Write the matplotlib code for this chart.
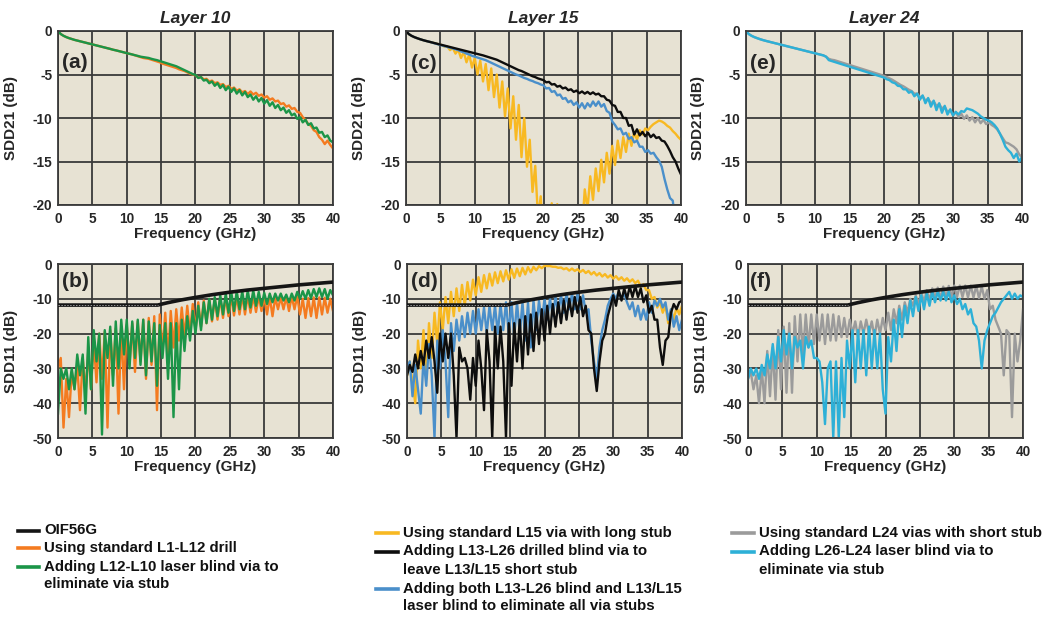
import matplotlib
matplotlib.use('Agg')
import matplotlib.pyplot as plt
from matplotlib.lines import Line2D

plt.rcParams['font.family'] = ['Liberation Sans', 'DejaVu Sans']

# ---------------- data ----------------
FREQ = [0.0, 0.4, 0.8, 1.2, 1.6, 2.0, 2.4, 2.8, 3.2, 3.6,
        4.0, 4.4, 4.8, 5.2, 5.6, 6.0, 6.4, 6.8, 7.2, 7.6,
        8.0, 8.4, 8.8, 9.2, 9.6, 10.0, 10.4, 10.8, 11.2, 11.6,
        12.0, 12.4, 12.8, 13.2, 13.6, 14.0, 14.4, 14.8, 15.2, 15.6,
        16.0, 16.4, 16.8, 17.2, 17.6, 18.0, 18.4, 18.8, 19.2, 19.6,
        20.0, 20.4, 20.8, 21.2, 21.6, 22.0, 22.4, 22.8, 23.2, 23.6,
        24.0, 24.4, 24.8, 25.2, 25.6, 26.0, 26.4, 26.8, 27.2, 27.6,
        28.0, 28.4, 28.8, 29.2, 29.6, 30.0, 30.4, 30.8, 31.2, 31.6,
        32.0, 32.4, 32.8, 33.2, 33.6, 34.0, 34.4, 34.8, 35.2, 35.6,
        36.0, 36.4, 36.8, 37.2, 37.6, 38.0, 38.4, 38.8, 39.2, 39.6,
        40.0]

# (a) Layer 10 SDD21
A_STD = [0, -0.35, -0.55, -0.7, -0.82, -0.92, -1.02, -1.1, -1.18, -1.26,
         -1.34, -1.42, -1.5, -1.58, -1.66, -1.74, -1.82, -1.9, -1.98, -2.06,
         -2.15, -2.22, -2.3, -2.38, -2.46, -2.55, -2.62, -2.7, -2.8, -2.9,
         -3.0, -3.1, -3.15, -3.2, -3.3, -3.4, -3.5, -3.6, -3.75, -3.85,
         -3.95, -4.05, -4.15, -4.25, -4.4, -4.5, -4.6, -4.75, -4.9, -5.0,
         -5.1, -5.35, -5.3, -5.55, -5.5, -5.8, -5.7, -6.0, -5.9, -6.2,
         -6.1, -6.45, -6.3, -6.65, -6.5, -6.85, -6.7, -7.05, -6.9, -7.25,
         -6.95, -7.3, -7.1, -7.45, -7.3, -7.65, -7.5, -7.9, -7.75, -8.1,
         -8.0, -8.4, -8.3, -8.7, -8.55, -8.95, -8.85, -9.3, -9.4, -9.9,
         -10.2, -10.7, -10.9, -11.4, -11.6, -12.2, -12.5, -13.0, -12.6, -13.1,
         -13.5]
A_LASER = [0, -0.35, -0.55, -0.7, -0.82, -0.92, -1.02, -1.1, -1.18, -1.26,
           -1.34, -1.42, -1.5, -1.58, -1.66, -1.74, -1.82, -1.9, -1.98, -2.06,
           -2.15, -2.22, -2.3, -2.38, -2.46, -2.55, -2.62, -2.7, -2.78, -2.86,
           -2.95, -3.0, -3.05, -3.1, -3.2, -3.28, -3.35, -3.45, -3.55, -3.65,
           -3.75, -3.85, -3.95, -4.05, -4.2, -4.35, -4.5, -4.65, -4.8, -4.95,
           -5.05, -5.4, -5.3, -5.7, -5.6, -6.0, -5.8, -6.3, -6.0, -6.55,
           -6.2, -6.8, -6.4, -7.0, -6.6, -7.2, -6.8, -7.4, -7.0, -7.6,
           -7.3, -7.9, -7.5, -8.1, -7.7, -8.35, -7.95, -8.6, -8.2, -8.85,
           -8.5, -9.1, -8.8, -9.4, -9.1, -9.7, -9.5, -10.1, -9.9, -10.5,
           -10.2, -10.8, -10.6, -11.2, -11.1, -11.7, -11.6, -12.2, -12.0, -12.6,
           -12.8]

# (b) Layer 10 SDD11
B_STD = [-30, -27, -47, -33, -44, -31, -36, -29, -42, -27,
         -37, -25, -36, -22, -34, -20, -33, -19.5, -47, -19,
         -32, -18.5, -43, -18, -36, -17.5, -29, -17, -31, -16.5,
         -28, -16, -33, -15.5, -29, -15, -42, -14.5, -25, -14,
         -27, -13.5, -24, -13, -22, -12.5, -21, -12, -20, -11.5,
         -19, -11, -18, -10.5, -17, -10.2, -16.5, -10, -16, -9.7,
         -15.5, -9.5, -15, -9.3, -14.8, -9.2, -14.5, -9.0, -14.5, -9.0,
         -14, -9.2, -13.8, -9.3, -13.5, -9.4, -14.5, -9.5, -15, -9.6,
         -13, -9.6, -13, -9.5, -13.5, -9.3, -13, -9.2, -14.5, -10,
         -15.5, -9.8, -15, -9.6, -15.5, -9.6, -14.5, -9.7, -14, -10,
         -13.5]
B_LASER = [-43, -30, -33, -30, -36, -30, -36, -26, -32, -26,
           -43, -21, -36, -19, -28, -20, -49, -19, -27, -18,
           -35, -16.5, -30, -16, -26, -16, -30, -16.5, -27, -16,
           -29, -16, -32, -16.5, -28, -17, -35, -17.5, -27, -17,
           -33, -17, -44, -17, -36, -16, -25, -15, -22, -13.5,
           -20, -12, -19, -11, -17, -10, -16, -9.5, -15, -9,
           -14.5, -8.5, -14, -8, -13.5, -7.8, -13, -7.8, -13, -7.6,
           -12.5, -7.6, -12, -8, -12, -8.3, -11.5, -8.5, -11, -8.5,
           -10.5, -8.5, -10.5, -8.8, -11, -8.5, -10.5, -8, -10, -7.8,
           -10, -7.5, -9.8, -7.2, -9.5, -7, -9.5, -7.2, -10, -7.5,
           -9]

# (c) Layer 15 SDD21
C_LONG = [0, -0.35, -0.55, -0.7, -0.82, -0.93, -1.03, -1.12, -1.2, -1.28,
          -1.36, -1.44, -1.55, -1.62, -1.8, -1.75, -2.2, -1.95, -2.6, -2.15,
          -3.1, -2.4, -3.6, -2.7, -4.2, -3.1, -5.0, -3.4, -5.8, -3.8,
          -6.8, -4.3, -7.6, -5.0, -8.8, -5.8, -9.8, -6.6, -11.2, -7.5,
          -12.5, -8.5, -14.5, -10.0, -15.6, -12.5, -18.5, -15.5, -21.5, -19.0,
          -25, -21, -24, -19.8, -25, -19.9, -26, -22, -27, -25,
          -27, -25, -27, -22, -23, -18.2, -20.5, -16.7, -19.4, -15.8,
          -18.4, -14.8, -17.4, -14.0, -16.4, -13.2, -15.4, -12.6, -14.6, -12.2,
          -13.9, -11.8, -13.2, -11.6, -12.5, -11.4, -11.9, -11.2, -11.4, -11.0,
          -10.7, -10.5, -10.3, -10.4, -10.6, -10.9, -11.1, -11.5, -11.8, -12.2,
          -12.5]
C_SHORT = [0, -0.35, -0.55, -0.7, -0.82, -0.93, -1.03, -1.12, -1.2, -1.28,
           -1.36, -1.44, -1.52, -1.6, -1.68, -1.76, -1.84, -1.92, -2.0, -2.08,
           -2.16, -2.24, -2.32, -2.4, -2.48, -2.56, -2.64, -2.72, -2.8, -2.9,
           -3.0, -3.1, -3.2, -3.3, -3.45, -3.6, -3.75, -3.9, -4.05, -4.2,
           -4.35, -4.5, -4.6, -4.75, -4.9, -5.05, -5.2, -5.3, -5.45, -5.55,
           -5.65, -5.9, -5.85, -6.15, -6.1, -6.4, -6.3, -6.6, -6.5, -6.8,
           -6.7, -7.0, -6.85, -7.15, -6.95, -7.2, -7.0, -7.25, -7.05, -7.3,
           -7.2, -7.5, -7.5, -7.9, -8.0, -8.5, -8.6, -9.3, -9.3, -10.0,
           -10.0, -10.9, -10.8, -11.9, -11.3, -12.0, -11.6, -12.1, -11.7, -12.2,
           -11.9, -12.3, -12.2, -12.6, -12.7, -13.2, -13.8, -14.5, -15.0, -15.8,
           -16.5]
C_NOSTUB = [0, -0.35, -0.55, -0.7, -0.82, -0.93, -1.03, -1.12, -1.2, -1.28,
            -1.38, -1.47, -1.56, -1.65, -1.74, -1.83, -1.92, -2.01, -2.1, -2.2,
            -2.35, -2.45, -2.6, -2.7, -2.85, -2.95, -3.05, -3.15, -3.25, -3.35,
            -3.5, -3.65, -3.8, -3.95, -4.1, -4.25, -4.4, -4.55, -4.7, -4.85,
            -5.0, -5.1, -5.25, -5.4, -5.5, -5.65, -5.75, -5.9, -6.0, -6.15,
            -6.25, -6.6, -6.55, -7.0, -6.9, -7.4, -7.3, -7.8, -7.7, -8.2,
            -8.0, -8.5, -8.2, -8.8, -8.3, -8.9, -8.3, -8.7, -8.1, -8.6,
            -8.1, -8.7, -8.4, -9.2, -9.4, -10.4, -10.8, -11.3, -11.2, -11.9,
            -11.7, -12.4, -12.2, -12.8, -12.6, -13.3, -13.3, -13.9, -13.7, -14.1,
            -14.0, -14.5, -14.9, -15.6, -17.0, -18.2, -19.2, -19.5, -22, -24,
            -25]

# (d) Layer 15 SDD11
D_LONG = [-32, -28, -34, -40, -22, -30, -19, -33, -17, -27,
          -14, -23, -11, -19, -9.5, -17, -8, -15, -7, -13.5,
          -6, -12, -5.2, -10.5, -4.5, -9, -3.8, -8, -3.2, -7,
          -2.8, -6.2, -2.4, -5.5, -2.1, -5, -1.8, -4.5, -1.5, -4,
          -1.3, -3.5, -1.1, -3, -0.9, -2.4, -0.8, -1.8, -0.6, -1.2,
          -0.5, -0.6, -0.6, -0.8, -0.8, -1.1, -1.0, -1.5, -1.2, -1.9,
          -1.3, -2.0, -1.5, -2.3, -1.7, -2.6, -2.0, -3.0, -2.3, -3.3,
          -2.6, -3.6, -2.9, -3.9, -3.2, -4.2, -3.5, -4.5, -3.8, -4.8,
          -4.1, -5.1, -4.4, -5.5, -4.8, -6.5, -5.8, -7.5, -7.5, -10,
          -9.5, -12.5, -11, -14, -12, -17, -13, -16, -12.5, -14.5,
          -12]
D_SHORT = [-32, -29, -31, -26, -30, -25, -29, -22, -27, -21,
           -28, -37, -20, -28, -20, -27, -20, -32, -50, -24,
           -28, -27, -30, -39, -27, -35, -22, -30, -42, -19,
           -28, -50, -18, -30, -18, -28, -50, -17, -35, -17,
           -28, -16, -30, -15, -26, -14.5, -25, -14, -23, -13,
           -22, -12, -20, -11.5, -18, -11, -17, -10.5, -16, -10,
           -15, -9.5, -14, -9.5, -15, -12, -19, -20, -30, -36.5,
           -28, -22, -20, -15, -12, -9, -12, -7.5, -10.5, -7,
           -10, -6.5, -9.5, -6.3, -9.5, -7, -11, -9, -14, -12,
           -16, -16, -24, -29, -22, -21, -14, -11.5, -13, -11,
           -10.5]
D_NOSTUB = [-30, -28, -38, -29, -36, -43, -27, -35, -23, -32,
            -50, -22, -30, -19, -28, -44, -17, -25, -16, -22,
            -15, -21, -14, -20, -13.5, -20, -13, -19, -12.5, -20,
            -12, -19, -12, -20, -11.5, -19, -11, -20, -11, -21,
            -11, -20, -11, -22, -11, -24, -10.5, -19, -10.5, -17,
            -10, -16, -10, -15, -9.5, -14, -9, -14, -8.5, -13,
            -8.5, -13, -8.5, -13, -9, -14, -13, -22, -28, -33,
            -24, -19, -16, -12, -10, -8.5, -10, -8, -10, -8.5,
            -11, -13, -11, -15, -12, -16, -13, -16, -11, -14,
            -10.5, -12, -10, -12.5, -11, -16, -13, -18, -15, -19,
            -16]

# (e) Layer 24 SDD21
E_STD = [0, -0.35, -0.55, -0.7, -0.82, -0.93, -1.03, -1.12, -1.2, -1.28,
         -1.36, -1.44, -1.52, -1.6, -1.68, -1.76, -1.84, -1.92, -2.0, -2.08,
         -2.16, -2.24, -2.32, -2.4, -2.48, -2.56, -2.64, -2.72, -2.8, -2.95,
         -3.2, -3.3, -3.35, -3.45, -3.55, -3.65, -3.75, -3.85, -3.95, -4.05,
         -4.15, -4.25, -4.35, -4.45, -4.55, -4.65, -4.75, -4.85, -4.95, -5.05,
         -5.15, -5.3, -5.45, -5.6, -5.8, -6.0, -6.2, -6.35, -6.55, -6.75,
         -6.9, -7.2, -7.2, -7.6, -7.5, -8.0, -7.8, -8.3, -8.1, -8.6,
         -8.4, -8.9, -8.7, -9.3, -9.1, -9.7, -9.3, -9.9, -9.5, -10.1,
         -9.7, -10.3, -9.9, -10.5, -10.0, -10.6, -10.2, -10.7, -10.5, -10.8,
         -11.0, -11.3, -11.8, -12.3, -12.8, -12.9, -13.1, -13.3, -13.6, -14.2,
         -14.5]
E_LASER = [0, -0.35, -0.55, -0.7, -0.82, -0.93, -1.03, -1.12, -1.2, -1.28,
           -1.36, -1.44, -1.52, -1.6, -1.68, -1.76, -1.84, -1.92, -2.0, -2.08,
           -2.16, -2.24, -2.32, -2.4, -2.48, -2.56, -2.64, -2.72, -2.8, -2.95,
           -3.35, -3.45, -3.55, -3.65, -3.75, -3.85, -3.95, -4.05, -4.15, -4.25,
           -4.35, -4.45, -4.55, -4.65, -4.75, -4.85, -4.95, -5.05, -5.15, -5.25,
           -5.35, -5.55, -5.65, -5.9, -6.0, -6.3, -6.35, -6.7, -6.7, -7.1,
           -6.95, -7.5, -7.2, -7.9, -7.4, -8.3, -7.7, -8.7, -8.0, -9.1,
           -8.3, -9.4, -8.6, -9.6, -9.0, -9.7, -9.3, -9.6, -9.2, -9.3,
           -8.9, -9.0, -9.1, -9.3, -9.5, -9.8, -10.0, -10.2, -10.3, -10.5,
           -10.8, -11.2, -11.8, -12.5, -13.3, -13.7, -14.0, -14.6, -14.1, -15.0,
           -14.5]

# (f) Layer 24 SDD11
F_STD = [-33, -31, -36, -32, -40, -30, -40, -25, -38, -24,
         -39, -19, -36, -18, -37, -17, -37, -15, -28, -14.5,
         -26, -14.5, -24, -14.5, -23, -14.5, -22, -14.5, -23, -14.5,
         -22, -14.5, -22, -15, -21, -15.5, -21, -16, -20, -16.5,
         -21, -16.5, -20, -16, -20, -16.5, -21, -16, -20, -15.5,
         -19, -14, -19, -13, -17, -12, -16, -11, -14, -10,
         -12, -9, -11.5, -8, -11, -7.5, -10.5, -7, -10, -6.8,
         -10, -6.5, -9.8, -6.3, -9.5, -6.2, -9.5, -6.2, -9.5, -6.2,
         -9.6, -6.2, -9.6, -6.3, -9.8, -6.5, -10, -7.5, -13, -12,
         -16, -18, -20, -32, -19, -20, -44, -20, -28, -22,
         -13]
F_LASER = [-33, -30, -32, -30, -33, -29, -32, -26, -30, -23,
           -30, -21, -28, -19, -26, -20, -30, -21, -24, -22,
           -30, -21, -24, -22, -27, -27, -28, -34, -46, -30,
           -28, -50, -28, -50, -27, -44, -22, -30, -19, -34,
           -19, -30, -19, -32, -18, -30, -19, -30, -20, -36,
           -43, -21, -28, -16, -25, -13, -21, -12, -17, -10.5,
           -15, -9.5, -13.5, -9, -13, -8.5, -12, -8, -11, -8,
           -10.5, -8, -10.5, -8, -11, -9, -11.5, -10, -13, -11.5,
           -14.5, -13, -17, -18, -22, -30, -22, -19, -17, -15,
           -14, -12.5, -11, -10, -9, -8, -10, -8.5, -10, -9,
           -9.5]

# OIF56G return-loss mask
OIF_FREQ = [0, 14.5, 16, 18, 20, 22.5, 25, 27.5, 30, 32.5, 35, 37.5, 40]
OIF_DB = [-11.8, -11.8, -11.1, -10.3, -9.6, -8.8, -8.1, -7.5, -7.0, -6.5, -6.0, -5.6, -5.2]

TITLES = ['Layer 10', 'Layer 15', 'Layer 24']
PANEL_LABELS = ['(a)', '(b)', '(c)', '(d)', '(e)', '(f)']
XTICKS = [0, 5, 10, 15, 20, 25, 30, 35, 40]
YTICKS_21 = [0, -5, -10, -15, -20]
YTICKS_11 = [0, -10, -20, -30, -40, -50]

LEGEND_COL1 = [('OIF56G', 'oif'), ('Using standard L1-L12 drill', 'orange'),
               ('Adding L12-L10 laser blind via to', 'green'), ('eliminate via stub', None)]
LEGEND_COL2 = [('Using standard L15 via with long stub', 'gold'),
               ('Adding L13-L26 drilled blind via to', 'black'), ('leave L13/L15 short stub', None),
               ('Adding both L13-L26 blind and L13/L15', 'blue'),
               ('laser blind to eliminate all via stubs', None)]
LEGEND_COL3 = [('Using standard L24 vias with short stub', 'gray'),
               ('Adding L26-L24 laser blind via to', 'cyan'), ('eliminate via stub', None)]

# ---------------- style ----------------
COLORS = {'oif': '#151515', 'orange': '#F47B20', 'green': '#1B9548', 'gold': '#F8B922',
          'black': '#0D0D0D', 'blue': '#4A8FCA', 'gray': '#9B9B9B', 'cyan': '#2DB0D7'}
BG = '#E7E2D3'
GRID = '#3a3a3a'
TXT = '#262626'

W, H = 1052, 617
fig = plt.figure(figsize=(W / 100, H / 100), dpi=100)


def add_axes(left_px, top_px, right_px, bottom_px):
    return fig.add_axes([left_px / W, 1 - bottom_px / H,
                         (right_px - left_px) / W, (bottom_px - top_px) / H])


def style(ax, ylim, yticks, ylabel):
    ax.set_facecolor(BG)
    ax.set_xlim(0, 40)
    ax.set_ylim(*ylim)
    ax.set_xticks(XTICKS)
    ax.set_yticks(yticks)
    ax.set_xticklabels([str(t) for t in XTICKS])
    ax.set_yticklabels([str(t) for t in yticks])
    ax.grid(True, color=GRID, lw=1.3)
    ax.set_axisbelow(True)
    ax.tick_params(length=0, labelsize=9.8, labelcolor=TXT)
    ax.tick_params(axis='y', pad=4)
    ax.tick_params(axis='x', pad=5)
    for lab in ax.get_xticklabels() + ax.get_yticklabels():
        lab.set_fontweight('bold')
    for s in ax.spines.values():
        s.set_color(GRID)
        s.set_linewidth(1.3)
    ax.set_xlabel('Frequency (GHz)', fontsize=11, fontweight='bold', color=TXT, labelpad=1)
    ax.set_ylabel(ylabel, fontsize=11, fontweight='bold', color=TXT)
    ax.yaxis.set_label_coords(-0.147, 0.5)


def plot_oif(ax):
    ax.plot(OIF_FREQ, OIF_DB, color=COLORS['oif'], lw=2.6, solid_capstyle='butt', zorder=5)
    ax.plot(OIF_FREQ[:2], OIF_DB[:2], color='#9a9a9a', lw=0.7, ls=(0, (1.5, 1.5)), zorder=6)


LW = 1.7
top_y = (31, 205)
bot_y = (264, 438)

ax_a = add_axes(58, top_y[0], 333, top_y[1])
ax_c = add_axes(406, top_y[0], 681, top_y[1])
ax_e = add_axes(746, top_y[0], 1022, top_y[1])
ax_b = add_axes(58, bot_y[0], 333, bot_y[1])
ax_d = add_axes(407, bot_y[0], 682, bot_y[1])
ax_f = add_axes(748, bot_y[0], 1023, bot_y[1])

# (a)
ax_a.plot(FREQ, A_STD, color=COLORS['orange'], lw=LW)
ax_a.plot(FREQ, A_LASER, color=COLORS['green'], lw=LW)
# (c)
ax_c.plot(FREQ, C_LONG, color=COLORS['gold'], lw=LW)
ax_c.plot(FREQ, C_NOSTUB, color=COLORS['blue'], lw=LW)
ax_c.plot(FREQ, C_SHORT, color=COLORS['black'], lw=LW)
# (e)
ax_e.plot(FREQ, E_STD, color=COLORS['gray'], lw=LW)
ax_e.plot(FREQ, E_LASER, color=COLORS['cyan'], lw=LW)
# (b)
ax_b.plot(FREQ, B_STD, color=COLORS['orange'], lw=LW)
ax_b.plot(FREQ, B_LASER, color=COLORS['green'], lw=LW)
plot_oif(ax_b)
# (d)
ax_d.plot(FREQ, D_LONG, color=COLORS['gold'], lw=LW)
ax_d.plot(FREQ, D_NOSTUB, color=COLORS['blue'], lw=LW)
ax_d.plot(FREQ, D_SHORT, color=COLORS['black'], lw=LW)
plot_oif(ax_d)
# (f)
ax_f.plot(FREQ, F_STD, color=COLORS['gray'], lw=LW)
ax_f.plot(FREQ, F_LASER, color=COLORS['cyan'], lw=LW)
plot_oif(ax_f)

for ax, title in zip([ax_a, ax_c, ax_e], TITLES):
    style(ax, (-20, 0), YTICKS_21, 'SDD21 (dB)')
    ax.set_title(title, fontsize=12.5, fontweight='bold', fontstyle='italic', color=TXT, pad=6)
for ax in [ax_b, ax_d, ax_f]:
    style(ax, (-50, 0), YTICKS_11, 'SDD11 (dB)')

label_pos = {'(a)': (ax_a, 0.013, 0.818), '(c)': (ax_c, 0.018, 0.816), '(e)': (ax_e, 0.015, 0.816),
             '(b)': (ax_b, 0.013, 0.902), '(d)': (ax_d, 0.015, 0.902), '(f)': (ax_f, 0.008, 0.898)}
for lab in PANEL_LABELS:
    ax, x, y = label_pos[lab]
    ax.text(x, y, lab, transform=ax.transAxes, fontsize=15, fontweight='bold',
            color=TXT, ha='left', va='center', zorder=10)

# ---------------- legend ----------------
def legend_column(entries, x_line0, x_line1, x_text, y_rows):
    for (txt, key), y in zip(entries, y_rows):
        yf = 1 - y / H
        if key is not None:
            fig.add_artist(Line2D([x_line0 / W, x_line1 / W], [yf, yf],
                                  color=COLORS[key], lw=2.6, transform=fig.transFigure))
        fig.text(x_text / W, yf, txt, fontsize=10.8, fontweight='bold', color='#111111',
                 ha='left', va='center')


legend_column(LEGEND_COL1, 18, 39, 44, [530.5, 548, 566.5, 584])
legend_column(LEGEND_COL2, 376, 398, 403, [533, 551.5, 570, 588.5, 606.5])
legend_column(LEGEND_COL3, 732, 754, 759, [533, 551.5, 570])

fig.savefig('out.png', dpi=100)
